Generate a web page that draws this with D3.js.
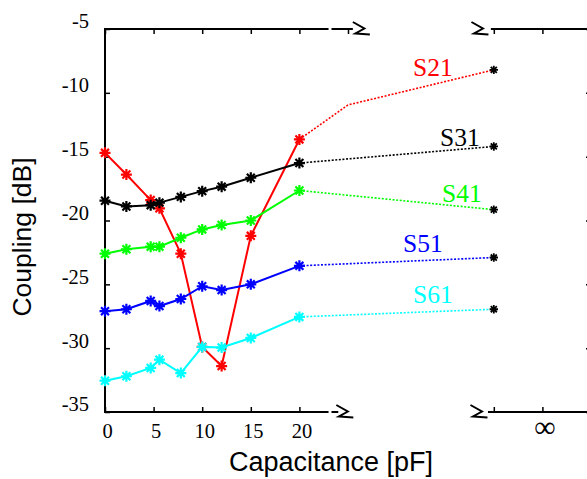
<!DOCTYPE html>
<html>
<head>
<meta charset="utf-8">
<script src="https://cdn.jsdelivr.net/npm/d3@7"></script>
<style>
  html, body { margin: 0; padding: 0; background: #fff; }
  svg { display: block; }
</style>
</head>
<body>
<svg id="chart" width="587" height="479"></svg>
<script>
// Measured coupling vs. series capacitance
const capacitance = [0, 2.2, 4.7, 5.6, 7.8, 10, 12, 15, 20];
const s21 = [-14.7, -16.4, -18.4, -19.05, -22.6, -29.9, -31.4, -21.2, -13.65];
const s31 = [-18.45, -18.9, -18.8, -18.6, -18.15, -17.7, -17.35, -16.65, -15.5];
const s41 = [-22.6, -22.25, -22.05, -22.05, -21.35, -20.7, -20.35, -20.0, -17.65];
const s51 = [-27.1, -26.95, -26.3, -26.7, -26.15, -25.15, -25.45, -25.0, -23.55];
const s61 = [-32.55, -32.2, -31.55, -30.9, -31.95, -29.9, -29.95, -29.2, -27.55];

// Open-circuit (C = ∞) values, plotted past the axis break
const seriesNames = ["S21", "S31", "S41", "S51", "S61"];
const infValues = [-8.2, -14.2, -19.15, -22.9, -26.95];
const s21Extra = [[25, -10.95]];          // extra S21 point on the dotted tail
const infPosition = 40;                  // where C = ∞ sits on the broken axis
const xTicks = [0, 5, 10, 15, 20];
const yTicks = [-35, -30, -25, -20, -15, -10, -5];
const xTickLabels = ["0", "5", "10", "15", "20"];
const infLabel = "∞";

const colors = ["#ff0000", "#000000", "#00ff00", "#0000ff", "#00ffff"];

const svg = d3.select("#chart");
const x = d3.scaleLinear().domain([0, 20]).range([105, 299.4]);
const y = d3.scaleLinear().domain([-35, -5]).range([412, 29]);
const yTop = y(-5), yBot = y(-35);
const xRight = x(50);

const serif = "'Liberation Serif', 'Times New Roman', serif";
const sans = "'Liberation Sans', Arial, sans-serif";

// ---- axes (broken between 25 and ~38 pF) ----
const axisG = svg.append("g").attr("stroke", "#000").attr("stroke-width", 2).attr("fill", "none");
const hseg = (a, b, yy) => axisG.append("line")
  .attr("x1", x(a)).attr("x2", x(b)).attr("y1", yy).attr("y2", yy);

// left spine
axisG.append("line").attr("x1", x(0)).attr("x2", x(0)).attr("y1", yTop - 1).attr("y2", yBot + 1);
// top frame
hseg(0, 23, yTop); hseg(23.3, 25.5, yTop); hseg(39.7, 50, yTop);
// bottom axis
hseg(0, 23, yBot); hseg(23.3, 24.0, yBot); hseg(39.4, 50, yBot);

// break marks
const breakPath = "M0,-7 L11.5,-0.5 L2.5,4.5 L17,5.5";
[[25.5, yTop], [23.8, yBot], [37.7, yTop], [37.6, yBot]].forEach(([v, yy]) => {
  axisG.append("path")
    .attr("transform", `translate(${x(v)},${yy})`)
    .attr("d", breakPath)
    .attr("stroke-linejoin", "miter");
});

// bottom ticks + labels
const bottomAxis = d3.axisBottom(x)
  .tickValues(xTicks.concat([infPosition, infPosition + 5]))
  .tickSizeInner(-5).tickSizeOuter(0).tickPadding(11)
  .tickFormat(d => {
    const i = xTicks.indexOf(d);
    if (i >= 0) return xTickLabels[i];
    return d === infPosition + 5 ? infLabel : "";
  });
const gb = svg.append("g").attr("transform", `translate(0,${yBot})`).call(bottomAxis);
gb.select(".domain").remove();
gb.selectAll(".tick line").attr("stroke-width", 1.5);
gb.selectAll(".tick text").attr("font-family", serif).attr("font-size", 20.5).attr("fill", "#000").attr("dx", 2);
gb.selectAll(".tick text").filter(d => d === infPosition + 5)
  .attr("font-size", 30).attr("dy", "0.45em");

// top ticks
const topAxis = d3.axisTop(x)
  .tickValues(xTicks.concat([25, infPosition, infPosition + 5]))
  .tickSizeInner(-5).tickSizeOuter(0).tickFormat("");
const gt = svg.append("g").attr("transform", `translate(0,${yTop})`).call(topAxis);
gt.select(".domain").remove();
gt.selectAll(".tick line").attr("stroke-width", 1.5);

// left ticks + labels
const leftAxis = d3.axisLeft(y).tickValues(yTicks)
  .tickSizeInner(-5).tickSizeOuter(0).tickPadding(16).tickFormat(d3.format("d"));
const gl = svg.append("g").attr("transform", `translate(${x(0)},0)`).call(leftAxis);
gl.select(".domain").remove();
gl.selectAll(".tick line").attr("stroke-width", 1.5);
gl.selectAll(".tick text").attr("font-family", serif).attr("font-size", 20.5).attr("fill", "#000")
  .attr("dy", "-0.05em").text(d => String(d));

// right ticks
const rightAxis = d3.axisRight(y).tickValues(yTicks).tickSizeInner(-5).tickSizeOuter(0).tickFormat("");
const gr = svg.append("g").attr("transform", `translate(${xRight},0)`).call(rightAxis);
gr.select(".domain").remove();
gr.selectAll(".tick line").attr("stroke-width", 1.5);

// ---- axis titles ----
svg.append("text")
  .attr("x", 229).attr("y", 471)
  .attr("font-family", sans).attr("font-size", 27).attr("fill", "#000")
  .text("Capacitance [pF]");
svg.append("text")
  .attr("transform", "translate(31,237) rotate(-90)")
  .attr("text-anchor", "middle")
  .attr("font-family", sans).attr("font-size", 26.5).attr("fill", "#000")
  .text("Coupling [dB]");

// ---- series ----
const allSeries = [s21, s31, s41, s51, s61];
const line = d3.line().x(d => x(d[0])).y(d => y(d[1]));

function star(g, cx, cy, color, r, w) {
  const a = r * 0.72;
  g.append("path")
    .attr("d", `M${cx - r},${cy}H${cx + r}M${cx},${cy - r}V${cy + r}` +
               `M${cx - a},${cy - a}L${cx + a},${cy + a}M${cx - a},${cy + a}L${cx + a},${cy - a}`)
    .attr("stroke", color).attr("stroke-width", w).attr("fill", "none");
}

const seriesG = svg.append("g");
allSeries.forEach((vals, i) => {
  const pts = capacitance.map((c, k) => [c, vals[k]]);
  const g = seriesG.append("g");
  // dotted extension to C = ∞
  const tail = [pts[pts.length - 1]]
    .concat(i === 0 ? s21Extra : [])
    .concat([[infPosition, infValues[i]]]);
  g.append("path").attr("d", line(tail))
    .attr("fill", "none").attr("stroke", colors[i])
    .attr("stroke-width", 1.6).attr("stroke-dasharray", "2,1.6");
  // measured curve
  g.append("path").attr("d", line(pts))
    .attr("fill", "none").attr("stroke", colors[i]).attr("stroke-width", 2);
  pts.forEach(p => star(g, x(p[0]), y(p[1]), colors[i], 5.5, 2.2));
  star(g, x(infPosition), y(infValues[i]), "#000", 4.2, 1.8);
});

// ---- series labels ----
const labelPos = [[413, 76], [440, 146], [442, 202], [403, 252], [413, 303]];
seriesNames.forEach((n, i) => {
  svg.append("text")
    .attr("x", labelPos[i][0]).attr("y", labelPos[i][1])
    .attr("font-family", serif).attr("font-size", 25.5).attr("fill", colors[i])
    .text(n);
});
</script>
</body>
</html>
